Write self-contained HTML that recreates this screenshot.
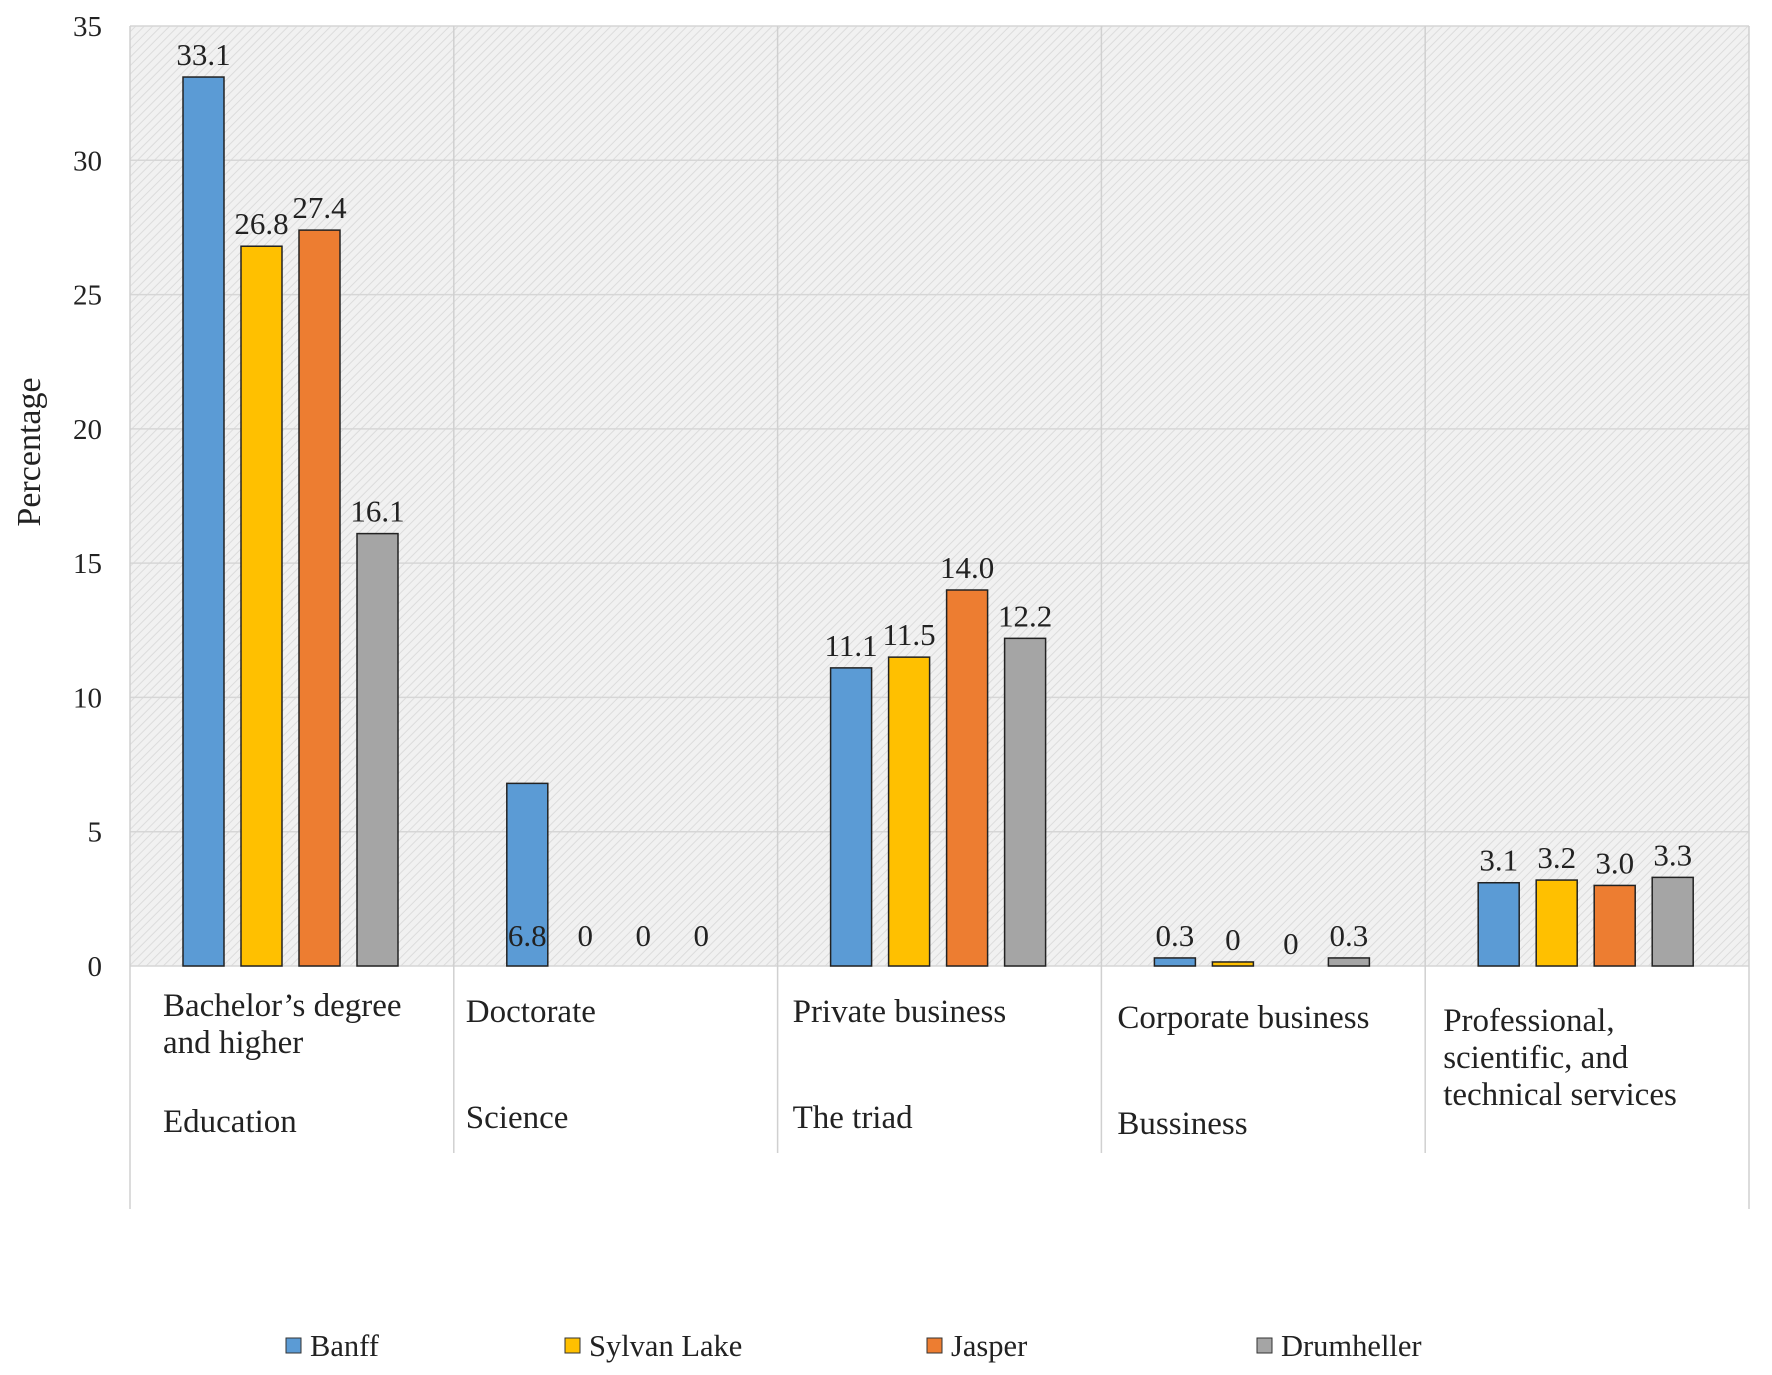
<!DOCTYPE html>
<html><head><meta charset="utf-8"><style>
body{margin:0;background:#fff;}
svg{display:block;font-family:"Liberation Serif",serif;}
</style></head><body>
<svg id="chart" width="1772" height="1375" viewBox="0 0 1772 1375" xmlns="http://www.w3.org/2000/svg">
<defs>
<pattern id="hatch" width="6" height="6" patternUnits="userSpaceOnUse" patternTransform="rotate(45)">
<rect width="6" height="6" fill="#f1f1f1"/><line x1="0" y1="0" x2="0" y2="6" stroke="#dcdcdc" stroke-width="2"/>
</pattern>
</defs>
<rect x="130" y="26" width="1619" height="940" fill="url(#hatch)"/>
<g id="grid"></g><g id="bars"></g><g id="labels"></g>
<text transform="translate(40,452) rotate(-90)" text-anchor="middle" font-size="34" fill="#222">Percentage</text>
</svg>
<script>
const categories = [["Bachelor’s degree","and higher"],["Doctorate"],["Private business"],["Corporate business"],["Professional,","scientific, and","technical services"]];
const groups = ["Education","Science","The triad","Bussiness",""];
const seriesNames = ["Banff","Sylvan Lake","Jasper","Drumheller"];
const colors = ["#5b9bd5","#ffc000","#ed7d31","#a5a5a5"];
const banff = [33.1,6.8,11.1,0.3,3.1];
const sylvan = [26.8,0,11.5,0.15,3.2];
const jasper = [27.4,0,14.0,0,3.0];
const drum = [16.1,0,12.2,0.3,3.3];
const printed = [["33.1","26.8","27.4","16.1"],["6.8","0","0","0"],["11.1","11.5","14.0","12.2"],["0.3","0","0","0.3"],["3.1","3.2","3.0","3.3"]];
const yTicks = [0,5,10,15,20,25,30,35];

const svg = document.getElementById('chart');
const NS = "http://www.w3.org/2000/svg";
const X0=130, X1=1749, Y0=966, Ytop=26, YMAX=35;
const catW=(X1-X0)/categories.length;
const y = v => Y0 - v/YMAX*(Y0-Ytop);
const xBar = (c,s) => X0 + c*catW + 53 + s*58;
const BW=41;
function mk(tag, attrs, parent){const e=document.createElementNS(NS,tag);for(const k in attrs)e.setAttribute(k,attrs[k]);(parent||svg).appendChild(e);return e;}
const grid=document.getElementById('grid'), barsG=document.getElementById('bars'), labG=document.getElementById('labels');

yTicks.forEach(t=>{
  const l=mk('line',{x1:X0,x2:X1,y1:y(t),y2:y(t),stroke:'#d6d6d6','stroke-width':1.5},grid);
  
  
  const tx=mk('text',{x:102,y:y(t)+10,'text-anchor':'end','font-size':29,fill:'#222'},labG);
  tx.textContent=t;
  
  
});
for(let i=0;i<=categories.length;i++){
  const x=X0+i*catW;
  const outer=(i===0||i===categories.length);
  const l=mk('line',{x1:x,x2:x,y1:Ytop,y2:outer?1209:1153,stroke:'#d0d0d0','stroke-width':1.5},grid);
  
  
}
const series=[banff,sylvan,jasper,drum];
series.forEach((vals,s)=>{
  vals.forEach((v,c)=>{
    const x=xBar(c,s);
    const r=mk('rect',{x:x,y:y(v),width:BW,height:Y0-y(v),fill:colors[s],stroke:'#222','stroke-width':1.5},barsG);
    
    
    const ly = c===1 ? Y0-20 : y(v)-12;
    const t=mk('text',{x:x+BW/2,y:ly,'text-anchor':'middle','font-size':31,fill:'#222'},labG);
    t.textContent=printed[c][s];
    
    
  });
});
categories.forEach((lines,c)=>{
  const x=X0+c*catW+(c===4?18:c===3?16:c===0?33:c===2?15:12);
  const baseY = c===3?1028:c===4?1031:c===0?1016:1022;
  lines.forEach((ln,i)=>{
    const t=mk('text',{x:x,y:baseY+i*37,'font-size':33,fill:'#222'},labG);
    t.textContent=ln;
    
    
  });
  if(groups[c]){
    const g=mk('text',{x:x,y:c===3?1134:c===0?1132:1128,'font-size':33,fill:'#222'},labG);
    g.textContent=groups[c];
    
    
  }
});
const legX=[286,565,927,1257];
seriesNames.forEach((n,s)=>{
  const r=mk('rect',{x:legX[s],y:1338,width:15,height:15,fill:colors[s],stroke:'#333','stroke-width':1});
  
  
  const t=mk('text',{x:legX[s]+24,y:1356,'font-size':30.5,fill:'#222'});
  t.textContent=n;
  
  
});
</script>
</body></html>
